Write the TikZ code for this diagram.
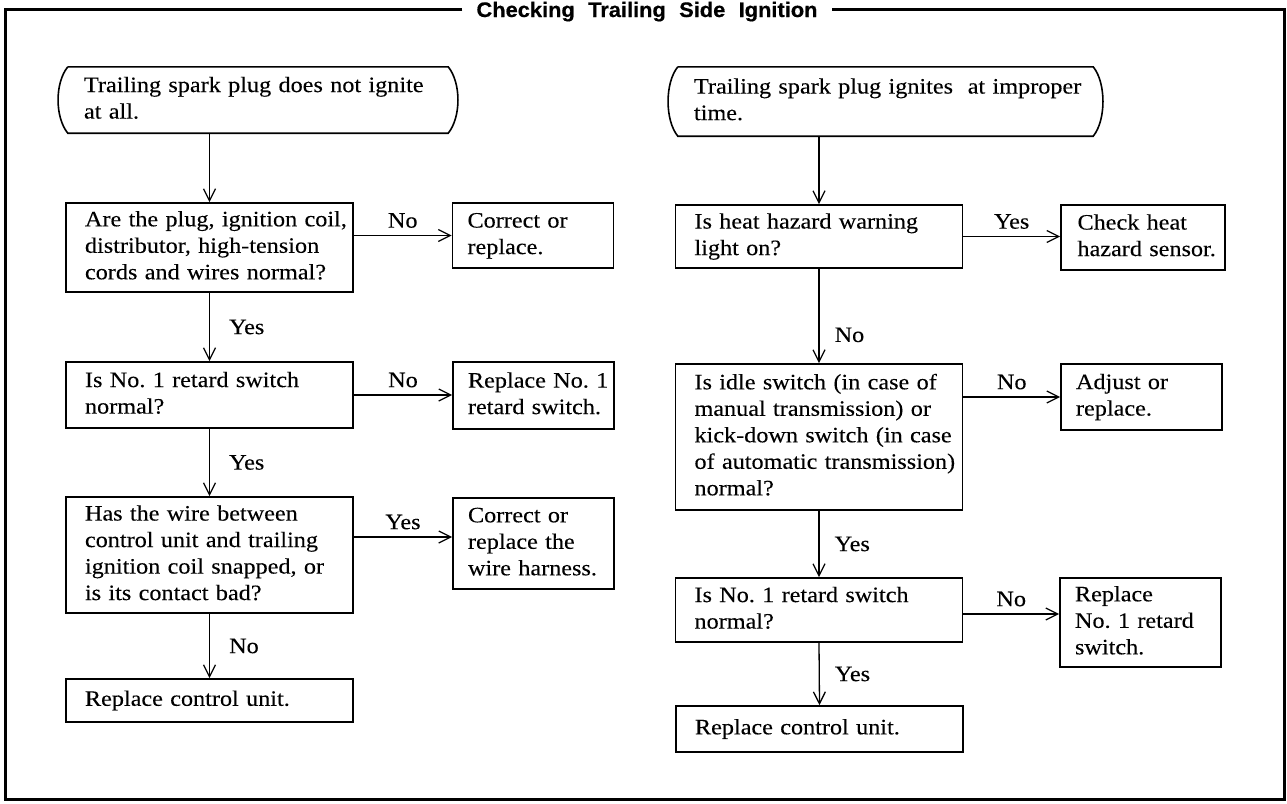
\documentclass[tikz,border=0pt]{standalone}
\usepackage{fontspec}
\setmainfont{Liberation Serif}[FakeStretch=1.1,FakeBold=0.15]
\newfontfamily\headfont{Liberation Sans}[WordSpace=2.2,FakeBold=0.6,FakeStretch=1.04]
\usetikzlibrary{positioning,arrows.meta}
\newcommand\boxlines[1]{\begin{tabular}{@{}l@{}}#1\end{tabular}}

\begin{document}
\begin{tikzpicture}[
  x=1pt, y=-1pt,
  font=\fontsize{22}{26.5}\selectfont,
  >={Straight Barb[length=12pt,width=12pt]},
  quest/.style={draw, line width=1.6pt, minimum width=287pt,
                text width=249pt, inner xsep=19pt, inner ysep=0pt,
                align=left},
  fix/.style={draw, line width=1.6pt, minimum width=161pt,
              text width=131pt, inner xsep=15pt, inner ysep=0pt,
              align=left},
  term/.style={inner xsep=16pt, inner ysep=0pt, align=left},
  edge/.style={line width=1.6pt},
  flow/.style={->, line width=1.3pt},
  lab/.style={inner sep=3pt},
  frame/.style={line width=3pt},
  title/.style={font=\headfont\bfseries\fontsize{21}{24}\selectfont,
                inner xsep=14pt, anchor=base},
]
\useasboundingbox (0,0) rectangle (1287,803);

\coordinate (fnw) at (5.5,9);
\coordinate (fse) at (1284.5,799);
\node[title] (ttl) at (647,17) {Checking Trailing Side Ignition};
\draw[frame] (ttl.west |- fnw) -- (fnw) -- (fnw |- fse) -- (fse)
  -- (fse |- fnw) -- (ttl.east |- fnw);

% left column
\node[term, text width=348pt, minimum height=66pt] (s1) at (258,100)
  {\boxlines{Trailing spark plug does not ignite\\ at all.}};
\node[quest, minimum height=89pt] (q1) at (209.5,247.5)
  {\boxlines{Are the plug, ignition coil,\\ distributor, high-tension\\ cords and wires normal?}};
\node[fix, minimum height=65pt] (f1) at (533,235.5)
  {\boxlines{Correct or\\ replace.}};
\node[quest, minimum height=66pt] (q2) at (209.5,395)
  {\boxlines{Is No.~1 retard switch\\ normal?}};
\node[fix, minimum height=67pt] (f2) at (533.5,395.5)
  {\boxlines{Replace No.~1\\ retard switch.}};
\node[quest, minimum height=116pt] (q3) at (209.5,555)
  {\boxlines{Has the wire between\\ control unit and trailing\\ ignition coil snapped, or\\ is its contact bad?}};
\node[fix, minimum height=91pt] (f3) at (533.5,543.5)
  {\boxlines{Correct or\\ replace the\\ wire harness.}};
\node[quest, minimum height=43pt] (e1) at (209.5,700.5)
  {\boxlines{Replace control unit.}};

% right column
\node[term, text width=383pt, minimum height=69pt] (s2) at (885.5,101.5)
  {\boxlines{Trailing spark plug ignites \ at improper\\ time.}};
\node[quest, minimum height=63pt] (q4) at (819,236.5)
  {\boxlines{Is heat hazard warning\\ light on?}};
\node[fix, minimum width=164pt, minimum height=65pt] (f4) at (1143,237.5)
  {\boxlines{Check heat\\ hazard sensor.}};
\node[quest, minimum height=146pt] (q5) at (819,437)
  {\boxlines{Is idle switch (in case of\\ manual transmission) or\\ kick-down switch (in case\\
   of automatic transmission)\\ normal?}};
\node[fix, minimum height=66pt] (f5) at (1141.5,397)
  {\boxlines{Adjust or\\ replace.}};
\node[quest, minimum height=64pt] (q6) at (819,610)
  {\boxlines{Is No.~1 retard switch\\ normal?}};
\node[fix, minimum height=89pt] (f6) at (1140.5,622.5)
  {\boxlines{Replace\\ No.~1 retard\\ switch.}};
\node[quest, minimum height=46pt] (e2) at (819.5,729)
  {\boxlines{Replace control unit.}};

\foreach \t in {s1,s2}
  \draw[edge] (\t.north west) -- (\t.north east)
    .. controls +(13,16) and +(13,-16) .. (\t.south east) -- (\t.south west)
    .. controls +(-13,-16) and +(-13,16) .. (\t.north west);

\coordinate (y3) at ([yshift=6.5pt]f3.west);
\coordinate (y6) at ([yshift=-4pt]q6.east);

\draw[flow] (s1.south -| q1.north) -- (q1.north);
\draw[flow] (q1.east |- f1.west) -- node[lab, above=4pt] {No} (f1.west);
\draw[flow] (q1.south) -- node[lab, right=16pt] {Yes} (q2.north);
\draw[flow] (q2.east) -- node[lab, above=4pt] {No} (q2.east -| f2.west);
\draw[flow] (q2.south) -- node[lab, right=16pt] {Yes} (q3.north);
\draw[flow] (q3.east |- y3) -- node[lab, above=4pt] {Yes} (y3);
\draw[flow] (q3.south) -- node[lab, right=16pt] {No} (e1.north);

\draw[flow] (s2.south -| q4.north) -- (q4.north);
\draw[flow] (q4.east) -- node[lab, above=4pt] {Yes} (q4.east -| f4.west);
\draw[flow] (q4.south) -- node[lab, right=12pt, pos=0.7] {No} (q5.north);
\draw[flow] (q5.east |- f5.west) -- node[lab, above=4pt] {No} (f5.west);
\draw[flow] (q5.south) -- node[lab, right=12pt] {Yes} (q6.north);
\draw[flow] (y6) -- node[lab, above=4pt] {No} (y6 -| f6.west);
\draw[flow] (q6.south) -- node[lab, right=12pt] {Yes} (e2.north);
\end{tikzpicture}
\end{document}
